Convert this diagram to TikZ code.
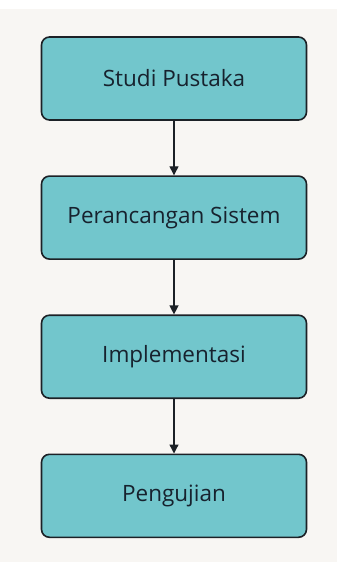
\documentclass[tikz,border=0pt]{standalone}
\usepackage{fontspec}
\setmainfont{Open Sans}
\usepackage{tikz}
\usetikzlibrary{positioning,shapes,arrows.meta}

\definecolor{boxfill}{HTML}{72C6CC}
\definecolor{boxline}{HTML}{1C2126}
\definecolor{boxtext}{HTML}{17222E}
\definecolor{paper}{HTML}{F8F6F3}

\begin{document}
\begin{tikzpicture}[x=1pt, y=1pt, node distance=54.5pt,
        every node/.style = {shape=rectangle, rounded corners=8pt,
        draw=boxline, line width=1.6pt, align=center,
        fill=boxfill, text=boxtext,
        minimum width=265pt, minimum height=83pt,
        font=\fontsize{22.5}{26}\selectfont},
        flow/.style = {draw=boxline, line width=1.3pt,
        -{Triangle[length=9pt,width=9pt]}}]
        % latar
        \fill[white] (0,0) rectangle (337,-562);
        \fill[paper] (0,-9) rectangle (337,-562);
        \useasboundingbox (0,0) rectangle (337,-562);
        % tahapan
        \node (studi) at (174,-78.5) {Studi Pustaka};
        \node (rancang) [below=of studi] {Perancangan Sistem};
        \node (impl) [below=of rancang] {Implementasi};
        \node (uji) [below=of impl] {Pengujian};
        % panah
        \draw[flow] (studi) -- (rancang);
        \draw[flow] (rancang) -- (impl);
        \draw[flow] (impl) -- (uji);
\end{tikzpicture}
\end{document}
